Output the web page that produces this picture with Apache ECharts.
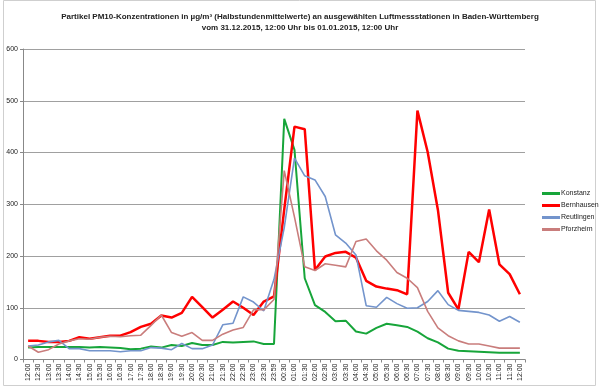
<!DOCTYPE html>
<html>
<head>
<meta charset="utf-8">
<script src="https://cdn.jsdelivr.net/npm/echarts@6/dist/echarts.min.js"></script>
<style>html,body{margin:0;padding:0;background:#fff}#c{width:600px;height:388px}</style>
</head>
<body>
<div id="c"></div>
<script>
const categories = ['12:00','12:30','13:00','13:30','14:00','14:30','15:00','15:30','16:00','16:30','17:00','17:30','18:00','18:30','19:00','19:30','20:00','20:30','21:00','21:30','22:00','22:30','23:00','23:30','23:59','00:30','01:00','01:30','02:00','02:30','03:00','03:30','04:00','04:30','05:00','05:30','06:00','06:30','07:00','07:30','08:00','08:30','09:00','09:30','10:00','10:30','11:00','11:30','12:00'];
const konstanz = [23,24,24,24,24,24,23,24,23,22,20,21,25,23,28,26,32,28,28,34,33,34,35,30,30,465,405,157,105,92,74,75,54,50,61,69,66,63,54,41,33,21,17,16,15,14,13,13,13];
const bernhausen = [36,36,34,34,36,43,40,43,46,46,53,63,69,85,81,90,121,101,81,96,112,100,86,112,122,290,450,445,173,199,206,208,197,152,141,137,134,126,481,401,289,129,97,208,188,290,184,165,126];
const reutlingen = [26,28,34,37,21,21,17,17,17,15,17,17,23,22,19,31,21,21,28,67,70,121,111,94,155,255,389,355,347,315,241,225,202,104,101,120,108,99,100,112,133,106,95,93,91,86,74,83,72];
const pforzheim = [26,14,19,30,36,40,39,43,45,44,46,47,66,86,52,45,52,37,37,49,57,62,96,96,116,365,275,179,172,185,182,179,228,233,210,192,168,157,139,93,61,46,36,30,30,26,22,22,22];
const yTicks = [0,100,200,300,400,500,600];
const titleLines = ['Partikel PM10-Konzentrationen in µg/m³ (Halbstundenmittelwerte) an ausgewählten Luftmessstationen in Baden-Württemberg','vom 31.12.2015, 12:00 Uhr bis 01.01.2015, 12:00 Uhr'];

const chart = echarts.init(document.getElementById('c'));
const font = 'Liberation Sans, Arial, sans-serif';
function mk(name, data, color, width) {
  return {name, type:'line', data, symbol:'none', smooth:false,
    lineStyle:{color, width}, itemStyle:{color}, z: 2};
}
chart.setOption({
  animation:false,
  backgroundColor:'#fff',
  graphic:[{type:'rect', shape:{x:3.5,y:0.5,width:592,height:385}, style:{fill:'none', stroke:'#cfcfcf', lineWidth:1}, z:-1}],
  title:{text:titleLines.join('\n'), left:'center', top:6,
    textStyle:{fontFamily:font, fontSize:8, fontWeight:'bold', color:'#222', lineHeight:11}},
  grid:{left:23, right:75, top:49, bottom:28.5},
  legend:{orient:'vertical', left:537, top:185, itemWidth:18, itemHeight:3, itemGap:5, icon:'rect',
    textStyle:{fontFamily:font, fontSize:7, color:'#222', padding:[0,0,0,-4]},
    data:['Konstanz','Bernhausen','Reutlingen','Pforzheim']},
  xAxis:{type:'category', data:categories, boundaryGap:true,
    axisLine:{lineStyle:{color:'#888'}},
    axisTick:{show:true, interval:0, length:3, lineStyle:{color:'#888'}},
    axisLabel:{interval:0, rotate:90, fontFamily:font, fontSize:7, color:'#222', margin:4}},
  yAxis:{type:'value', min:yTicks[0], max:yTicks[yTicks.length-1], interval:100,
    axisLine:{show:true, lineStyle:{color:'#888'}},
    axisTick:{show:true, length:3, lineStyle:{color:'#888'}},
    axisLabel:{fontFamily:font, fontSize:7, color:'#222', margin:5},
    splitLine:{lineStyle:{color:'#a0a0a0', width:1}}},
  series:[
    mk('Konstanz', konstanz, '#17a53a', 2),
    mk('Bernhausen', bernhausen, '#ff0000', 2.5),
    mk('Reutlingen', reutlingen, '#7394cc', 1.6),
    mk('Pforzheim', pforzheim, '#c97d7c', 1.6)
  ]
});
</script>
</body>
</html>
